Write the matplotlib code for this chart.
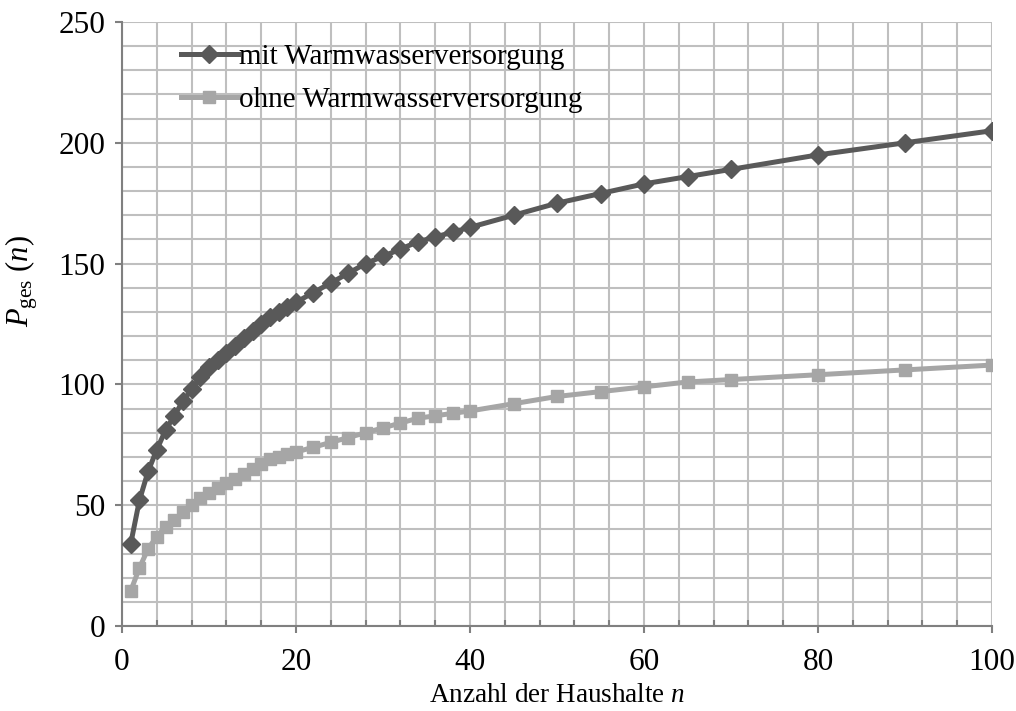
import matplotlib
matplotlib.use("Agg")
import matplotlib.pyplot as plt
from matplotlib.ticker import MultipleLocator

n_values = [1, 2, 3, 4, 5, 6, 7, 8, 9, 10, 11, 12, 13, 14, 15, 16, 17, 18, 19, 20,
            22, 24, 26, 28, 30, 32, 34, 36, 38, 40, 45, 50, 55, 60, 65, 70, 80, 90, 100]
mit_ww = [34, 52, 64, 73, 81, 87, 93, 98, 103, 107, 110, 113, 116, 119, 122, 125, 128, 130, 132, 134,
          138, 142, 146, 150, 153, 156, 159, 161, 163, 165, 170, 175, 179, 183, 186, 189, 195, 200, 205]
ohne_ww = [14.5, 24, 32, 37, 41, 44, 47, 50, 53, 55, 57, 59, 61, 63, 65, 67, 69, 70, 71, 72,
           74, 76, 78, 80, 82, 84, 86, 87, 88, 89, 92, 95, 97, 99, 101, 102, 104, 106, 108]
series_labels = ["mit Warmwasserversorgung", "ohne Warmwasserversorgung"]
x_label = "Anzahl der Haushalte $n$"
y_label = "$P_{\\mathrm{ges}}$ ($n$)"

plt.rcParams['font.family'] = ['Liberation Serif', 'DejaVu Serif']
plt.rcParams['mathtext.fontset'] = 'custom'
plt.rcParams['mathtext.rm'] = 'Liberation Serif'
plt.rcParams['mathtext.it'] = 'Liberation Serif:italic'

fig = plt.figure(figsize=(10.16, 7.11), dpi=100)
ax = fig.add_axes([122/1016, 1 - 626/711, (992-122)/1016, (626-22)/711])

ax.plot(n_values, mit_ww, color='#595959', lw=3.6, marker='D', ms=9,
        label=series_labels[0], zorder=4)
ax.plot(n_values, ohne_ww, color='#a6a6a6', lw=3.6, marker='s', ms=8.5,
        label=series_labels[1], zorder=3)

ax.set_xlim(0, 100)
ax.set_ylim(0, 250)
ax.xaxis.set_major_locator(MultipleLocator(20))
ax.xaxis.set_minor_locator(MultipleLocator(4))
ax.yaxis.set_major_locator(MultipleLocator(50))
ax.yaxis.set_minor_locator(MultipleLocator(10))

ax.grid(which='both', color='#bfbfbf', lw=1.5, zorder=0)
ax.set_axisbelow(True)
for s in ['top', 'right']:
    ax.spines[s].set_visible(False)
for s in ['left', 'bottom']:
    ax.spines[s].set_color('#808080')
    ax.spines[s].set_linewidth(1.5)

ax.tick_params(axis='both', which='major', direction='out', length=5, width=1.5,
               color='#808080', labelsize=22.5)
ax.tick_params(axis='x', which='major', pad=11)
ax.tick_params(axis='y', which='major', pad=7)
ax.tick_params(axis='x', which='minor', direction='in', length=4, width=1.5, color='#808080')
ax.tick_params(axis='y', which='minor', length=0)

ax.set_xlabel(x_label, fontsize=19.5, labelpad=4)
ax.set_ylabel(y_label, fontsize=22)
ax.yaxis.set_label_coords((40 - 122) / 870, (626 - 281) / 604)

leg = ax.legend(loc='upper left', bbox_to_anchor=(181/1016, 1 - 44/711),
                bbox_transform=fig.transFigure, frameon=False, fontsize=21,
                handlelength=1.95, handletextpad=0.05, labelspacing=0.57,
                borderaxespad=0, borderpad=0)

fig.savefig('out.png', dpi=100)
